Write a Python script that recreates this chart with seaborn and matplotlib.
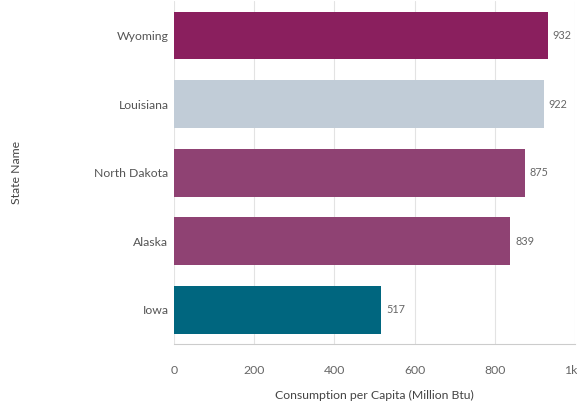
import pandas as pd
import matplotlib.pyplot as plt
import matplotlib.transforms as mtransforms
import seaborn as sns

states = ["Wyoming", "Louisiana", "North Dakota", "Alaska", "Iowa"]
consumption = [932, 922, 875, 839, 517]
bar_colors = ["#8a1f5e", "#c1ccd7", "#8f4273", "#8f4273", "#00667f"]
x_ticks = [0, 200, 400, 600, 800, 1000]
x_tick_labels = ["0", "200", "400", "600", "800", "1k"]

df = pd.DataFrame({"State Name": states, "Consumption": consumption})

sns.set_style("white")
plt.rcParams["font.family"] = ["Lato", "DejaVu Sans"]

fig = plt.figure(figsize=(5.77, 4.09), dpi=100)
ax = fig.add_axes([0.3016, 0.159, 0.695, 0.838])

sns.barplot(data=df, x="Consumption", y="State Name", hue="State Name",
            palette=bar_colors, width=0.7, legend=False, ax=ax,
            saturation=1, linewidth=0)

for i, v in enumerate(consumption):
    ax.text(v + 12, i, str(v), va="center", ha="left", fontsize=7.8, color="#666666")

ax.set_xlim(0, 1000)
ax.set_ylim(4.5, -0.5)
ax.set_xticks(x_ticks)
ax.set_xticklabels(x_tick_labels)
ax.grid(axis="x", color="#e3e3e3", linewidth=0.8)
ax.set_axisbelow(True)

for side in ["top", "right", "left"]:
    ax.spines[side].set_visible(False)
ax.spines["bottom"].set_color("#cccccc")
ax.spines["bottom"].set_linewidth(0.8)

ax.tick_params(axis="x", length=8, width=0.8, color="#cccccc", pad=7,
               labelsize=8.8, labelcolor="#666666")
ax.tick_params(axis="y", length=0, pad=4, labelsize=8.8, labelcolor="#555555")

# keep the "1k" label inside the figure
last = ax.get_xticklabels()[-1]
last.set_transform(last.get_transform() + mtransforms.ScaledTranslation(-4 / 100, 0, fig.dpi_scale_trans))

ax.set_xlabel("Consumption per Capita (Million Btu)", fontsize=8.8, color="#444444", labelpad=10)
ax.set_ylabel("State Name", fontsize=8.8, color="#444444", labelpad=52)

fig.savefig("out.png", dpi=100)
